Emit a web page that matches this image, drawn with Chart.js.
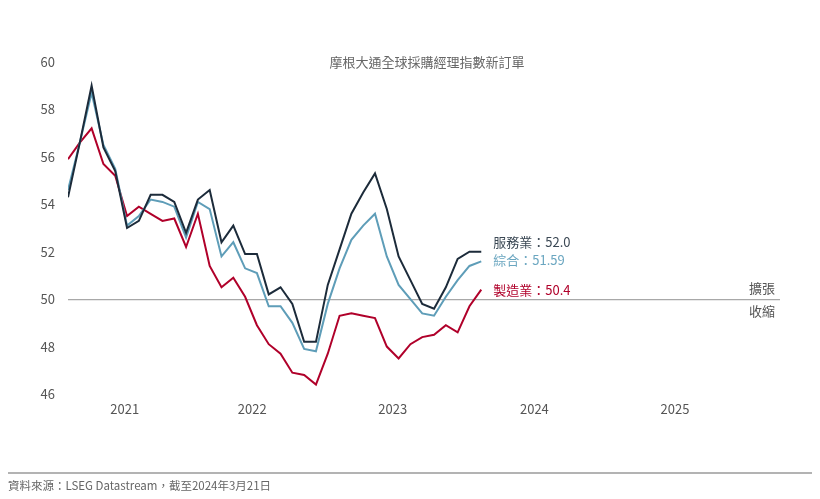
<!DOCTYPE html>
<html>
<head>
<meta charset="utf-8">
<script src="https://cdn.jsdelivr.net/npm/chart.js@4"></script>
<style>
  html, body { margin: 0; padding: 0; background: #fff; }
  #wrap { position: relative; width: 820px; height: 499px; }
</style>
</head>
<body>
<div id="wrap"><canvas id="Chart" width="820" height="499"></canvas></div>
<script>
// monthly readings
const services = [54.3, 56.6, 59.0, 56.4, 55.4, 53.0, 53.3, 54.4, 54.4, 54.1, 52.8, 54.2,
  54.6, 52.4, 53.1, 51.9, 51.9, 50.2, 50.5, 49.8, 48.2, 48.2, 50.6, 52.1,
  53.6, 54.5, 55.3, 53.8, 51.8, 50.8, 49.8, 49.6, 50.5, 51.7, 52.0, 52.0];
const composite = [54.6, 56.6, 58.7, 56.5, 55.5, 53.1, 53.5, 54.2, 54.1, 53.9, 52.6, 54.1,
  53.8, 51.8, 52.4, 51.3, 51.1, 49.7, 49.7, 49.0, 47.9, 47.8, 49.8, 51.3,
  52.5, 53.1, 53.6, 51.8, 50.6, 50.0, 49.4, 49.3, 50.1, 50.8, 51.4, 51.59];
const manufacturing = [55.9, 56.6, 57.2, 55.7, 55.2, 53.5, 53.9, 53.6, 53.3, 53.4, 52.2, 53.6,
  51.4, 50.5, 50.9, 50.1, 48.9, 48.1, 47.7, 46.9, 46.8, 46.4, 47.7, 49.3,
  49.4, 49.3, 49.2, 48.0, 47.5, 48.1, 48.4, 48.5, 48.9, 48.6, 49.7, 50.4];

const yearLabels = ["2021", "2022", "2023", "2024", "2025"];
const yearTickPos = [4.8, 15.6, 27.5, 39.5, 51.4]; // in month-index units
const endLabels = ["服務業：52.0", "綜合：51.59", "製造業：50.4"];
const titleText = "摩根大通全球採購經理指數新訂單";
const sourceText = "資料來源：LSEG Datastream，截至2024年3月21日";

const FONT = "'Noto Sans CJK TC', 'Noto Sans', 'Open Sans', sans-serif";
const COLORS = ["#1c2b3a", "#5e9db8", "#b0002a"];
const LABEL_COLORS = ["#3b4854", "#6aa6c0", "#b0002a"];

const toPoints = (arr) => arr.map((v, i) => ({ x: i, y: v }));

// text drawn on top of the chart: title, end labels, expansion/contraction, source
const annotations = {
  id: "annotations",
  afterDraw(chart) {
    const { ctx, chartArea, scales } = chart;
    const x = scales.x, y = scales.y;
    ctx.save();
    ctx.textBaseline = "middle";

    // title
    ctx.font = "13px " + FONT;
    ctx.fillStyle = "#666";
    ctx.textAlign = "center";
    ctx.fillText(titleText, 427, 62);

    // line end labels
    const shifts = [-10, -1, 0];
    const last = services.length - 1;
    ctx.font = "13px " + FONT;
    ctx.textAlign = "left";
    chart.data.datasets.forEach((ds, i) => {
      const p = ds.data[last];
      ctx.fillStyle = LABEL_COLORS[i];
      ctx.fillText(endLabels[i], x.getPixelForValue(p.x) + 12, y.getPixelForValue(p.y) + shifts[i]);
    });

    // expansion / contraction
    const y50 = y.getPixelForValue(50);
    ctx.fillStyle = "#555";
    ctx.textAlign = "right";
    ctx.fillText("擴張", chartArea.right - 5, y50 - 11);
    ctx.fillText("收縮", chartArea.right - 5, y50 + 12);

    // source rule + text
    ctx.strokeStyle = "#9a9a9a";
    ctx.lineWidth = 1.5;
    ctx.beginPath();
    ctx.moveTo(8, 473);
    ctx.lineTo(812, 473);
    ctx.stroke();
    ctx.font = "11.5px " + FONT;
    ctx.fillStyle = "#666";
    ctx.textAlign = "left";
    ctx.fillText(sourceText, 8, 486);
    ctx.restore();
  },
};

new Chart(document.getElementById("Chart"), {
  type: "line",
  data: {
    datasets: [
      { data: toPoints(services), borderColor: COLORS[0] },
      { data: toPoints(composite), borderColor: COLORS[1] },
      { data: toPoints(manufacturing), borderColor: COLORS[2] },
    ].map((d) => ({ ...d, borderWidth: 2, pointRadius: 0, tension: 0, fill: false })),
  },
  options: {
    responsive: false,
    animation: false,
    layout: { padding: { top: 62, left: 0, right: 40, bottom: 75 } },
    scales: {
      x: {
        type: "linear",
        min: 0,
        max: 60.3,
        border: { display: false },
        grid: { display: false, drawTicks: false },
        afterBuildTicks: (s) => { s.ticks = yearTickPos.map((v) => ({ value: v })); },
        afterFit: (s) => { s.height = 30; },
        ticks: {
          padding: 7,
          color: "#555",
          font: { family: FONT, size: 13 },
          maxRotation: 0,
          autoSkip: false,
          callback: (v, i) => yearLabels[i],
        },
      },
      y: {
        min: 46,
        max: 60,
        border: { display: false },
        grid: {
          drawTicks: false,
          lineWidth: 1.2,
          color: (c) => (c.tick && c.tick.value === 50 ? "#a8a8a8" : "rgba(0,0,0,0)"),
        },
        afterFit: (s) => { s.width = 68; },
        ticks: {
          stepSize: 2,
          padding: 13,
          color: "#555",
          font: { family: FONT, size: 13 },
        },
      },
    },
    plugins: {
      legend: { display: false },
      tooltip: { enabled: false },
    },
  },
  plugins: [annotations],
});
</script>
</body>
</html>
